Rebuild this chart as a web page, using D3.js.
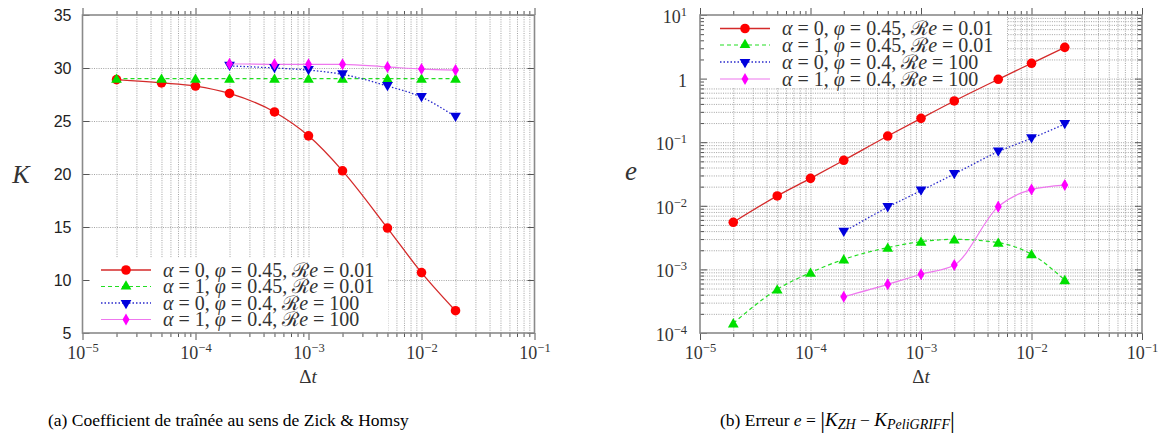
<!DOCTYPE html>
<html><head><meta charset="utf-8">
<script src="https://cdn.jsdelivr.net/npm/d3@7"></script>
<style>
body{margin:0;background:#fff;}
svg{display:block;}
</style></head>
<body>
<svg id="c" width="1168" height="440"></svg>
<script>
// ---- data ----
const dtA = [2e-5,5e-5,1e-4,2e-4,5e-4,1e-3,2e-3,5e-3,1e-2,2e-2];
const dtB = [2e-4,5e-4,1e-3,2e-3,5e-3,1e-2,2e-2];
const K_s1 = [28.9,28.6,28.3,27.6,25.85,23.6,20.3,14.9,10.7,7.1];
const K_s2 = [29.0,29.0,29.0,29.0,29.0,29.0,29.0,29.0,29.0,29.0];
const K_s3 = [30.2,30.0,29.8,29.4,28.3,27.25,25.4];
const K_s4 = [30.4,30.35,30.35,30.35,30.1,29.9,29.8];
const E_s1 = [0.0055,0.0143,0.027,0.052,0.125,0.237,0.445,0.975,1.74,3.1];
const E_s2 = [0.000142,0.000486,0.00089,0.00144,0.0022,0.00273,0.00297,0.00263,0.00173,0.00068];
const E_s3 = [0.0039,0.0095,0.0173,0.0316,0.071,0.115,0.193];
const E_s4 = [0.000372,0.000583,0.00084,0.00117,0.0097,0.018,0.0212];
const xMajor = [1e-5,1e-4,1e-3,1e-2,1e-1];
const xLabels = ["−5","−4","−3","−2","−1"];
const kTicks = [5,10,15,20,25,30,35];
const eMajor = [1e-4,1e-3,1e-2,1e-1,1,10];
const eLabels = [["10","−4"],["10","−3"],["10","−2"],["10","−1"],["1",""],["10","1"]];
const legendParts = [
  [["α",1]," = 0, ",["φ",1]," = 0.45, ",["ℛ",0],["e",1]," = 0.01"],
  [["α",1]," = 1, ",["φ",1]," = 0.45, ",["ℛ",0],["e",1]," = 0.01"],
  [["α",1]," = 0, ",["φ",1]," = 0.4, ",["ℛ",0],["e",1]," = 100"],
  [["α",1]," = 1, ",["φ",1]," = 0.4, ",["ℛ",0],["e",1]," = 100"]
];
const styles = [
  {line:"#d42a2a", fill:"#ff0000", dash:null, w:1.3, sym:d3.symbolCircle, size:72, rot:0},
  {line:"#22dd22", fill:"#00e000", dash:"4,3", w:1.2, sym:d3.symbolTriangle, size:50, rot:0},
  {line:"#2a2acc", fill:"#0000dd", dash:"1.5,2", w:1.3, sym:d3.symbolTriangle, size:50, rot:180},
  {line:"#ee77ee", fill:"#ff00ff", dash:null, w:1.2, sym:d3.symbolDiamond, size:42, rot:0}
];

const svg = d3.select("#c");
const serif = "Liberation Serif";
const sans = "Liberation Sans";

function minorTicks(lo, hi){
  const out=[];
  for(let e=lo;e<hi;e++) for(let m=1;m<=9;m++) out.push(m*Math.pow(10,e));
  out.push(Math.pow(10,hi));
  return out;
}

function drawPanel(o){
  const {x,y,yLog,seriesX,seriesY,legendBox,legendY,legendX0} = o;
  const g = svg.append("g");
  const [x0,x1]=x.range(), [y0,y1]=y.range();
  const W=x1-x0, H=y0-y1;
  const xm = minorTicks(-5,-1);
  const gridStyle=a=>{a.select(".domain").remove();a.selectAll("line").attr("stroke","#8c8c8c").attr("stroke-width",0.8).attr("stroke-dasharray","1,1.3");};
  g.append("g").attr("transform",`translate(0,${y0})`)
    .call(d3.axisBottom(x).tickValues(xm.filter(v=>v>1e-5&&v<1e-1)).tickSize(-H).tickFormat(""))
    .call(gridStyle);
  const yg = yLog ? minorTicks(-4,1).filter(v=>v>1e-4&&v<10) : kTicks.filter(v=>v>5&&v<35);
  g.append("g").attr("transform",`translate(${x0},0)`)
    .call(d3.axisLeft(y).tickValues(yg).tickSize(-W).tickFormat(""))
    .call(gridStyle);
  g.append("rect").attr("x",legendBox[0]).attr("y",legendBox[1]).attr("width",legendBox[2]).attr("height",legendBox[3]).attr("fill","#fff");
  const tickStyle=a=>{a.select(".domain").remove();a.selectAll("line").attr("stroke","#555").attr("stroke-width",1);};
  const isMajor=v=>Math.abs(Math.log10(v)-Math.round(Math.log10(v)))<1e-9;
  [[y0,-1],[y1,1]].forEach(([py,s])=>{
    g.append("g").attr("transform",`translate(0,${py})`)
      .call(d3.axisBottom(x).tickValues(xm.filter(isMajor)).tickSize(-7*s).tickFormat("")).call(tickStyle);
    g.append("g").attr("transform",`translate(0,${py})`)
      .call(d3.axisBottom(x).tickValues(xm.filter(v=>!isMajor(v))).tickSize(-4*s).tickFormat("")).call(tickStyle);
  });
  const yt = yLog ? minorTicks(-4,1) : kTicks;
  [[x0,1],[x1,-1]].forEach(([px,s])=>{
    if(yLog){
      g.append("g").attr("transform",`translate(${px},0)`)
        .call(d3.axisLeft(y).tickValues(yt.filter(isMajor)).tickSize(-7*s).tickFormat("")).call(tickStyle);
      g.append("g").attr("transform",`translate(${px},0)`)
        .call(d3.axisLeft(y).tickValues(yt.filter(v=>!isMajor(v))).tickSize(-4*s).tickFormat("")).call(tickStyle);
    } else {
      g.append("g").attr("transform",`translate(${px},0)`)
        .call(d3.axisLeft(y).tickValues(yt).tickSize(-7*s).tickFormat("")).call(tickStyle);
    }
  });
  g.append("rect").attr("x",x0).attr("y",y1).attr("width",W).attr("height",H)
    .attr("fill","none").attr("stroke","#8a8a8a").attr("stroke-width",1.6);
  g.append("g").attr("transform",`translate(0,${y0})`)
    .call(d3.axisBottom(x).tickValues(xMajor).tickSize(0).tickPadding(0).tickFormat(""))
    .call(a=>{a.select(".domain").remove();
      a.selectAll(".tick text").each(function(d,i){
        const t=d3.select(this).attr("y",26).attr("dy",null).attr("fill","#333")
          .attr("font-family",serif).attr("font-size",18).attr("text-anchor","middle");
        t.append("tspan").text("10");
        t.append("tspan").attr("font-size",12.5).attr("dy",-7).text(xLabels[i]);
      });});
  if(yLog){
    g.append("g").attr("transform",`translate(${x0},0)`)
      .call(d3.axisLeft(y).tickValues(eMajor).tickSize(0).tickPadding(13).tickFormat(""))
      .call(a=>{a.select(".domain").remove();
        a.selectAll(".tick text").each(function(d,i){
          const t=d3.select(this).attr("dy","0.42em").attr("fill","#333")
            .attr("font-family",serif).attr("font-size",18).attr("text-anchor","end");
          t.append("tspan").text(eLabels[i][0]);
          if(eLabels[i][1]) t.append("tspan").attr("font-size",12.5).attr("dy",-7).text(eLabels[i][1]);
        });});
  } else {
    g.append("g").attr("transform",`translate(${x0},0)`)
      .call(d3.axisLeft(y).tickValues(kTicks).tickSize(0).tickPadding(11).tickFormat(d3.format("d")))
      .call(a=>{a.select(".domain").remove();
        a.selectAll(".tick text").attr("dy","0.36em").attr("fill","#222").attr("font-family",sans).attr("font-size",16);});
  }
  const line=d3.line().curve(d3.curveMonotoneX);
  styles.forEach((s,i)=>{
    const pts=seriesX[i].map((v,j)=>[x(v),y(seriesY[i][j])]);
    g.append("path").attr("d",line(pts)).attr("fill","none").attr("stroke",s.line)
      .attr("stroke-width",s.w).attr("stroke-dasharray",s.dash);
  });
  styles.forEach((s,i)=>{
    const pts=seriesX[i].map((v,j)=>[x(v),y(seriesY[i][j])]);
    g.append("g").selectAll("path").data(pts).join("path")
      .attr("d",d3.symbol().type(s.sym).size(s.size))
      .attr("transform",d=>`translate(${d[0]},${d[1]+(s.sym===d3.symbolTriangle?(s.rot?-1:1):0)}) rotate(${s.rot})`)
      .attr("fill",s.fill);
  });
  styles.forEach((s,i)=>{
    const ly=legendY[i];
    g.append("line").attr("x1",legendX0).attr("x2",legendX0+50).attr("y1",ly).attr("y2",ly)
      .attr("stroke",s.line).attr("stroke-width",s.w).attr("stroke-dasharray",s.dash);
    g.append("path").attr("d",d3.symbol().type(s.sym).size(s.size))
      .attr("transform",`translate(${legendX0+25},${ly}) rotate(${s.rot})`).attr("fill",s.fill);
    const t=g.append("text").attr("x",legendX0+62).attr("y",ly+6.5).attr("font-family",serif)
      .attr("font-size",20).attr("fill","#333");
    legendParts[i].forEach(p=>{
      if(typeof p==="string") t.append("tspan").text(p);
      else t.append("tspan").attr("font-style",p[1]?"italic":"normal").text(p[0]);
    });
  });
}

const xL=d3.scaleLog().domain([1e-5,1e-1]).range([82.5,534.5]);
const yL=d3.scaleLinear().domain([5,35]).range([333,15]);
drawPanel({x:xL,y:yL,yLog:false,seriesX:[dtA,dtA,dtB,dtB],seriesY:[K_s1,K_s2,K_s3,K_s4],
  legendBox:[84,258,304,74],legendY:[270,286.5,303,319.5],legendX0:101});

const xR=d3.scaleLog().domain([1e-5,1e-1]).range([700,1142]);
const yR=d3.scaleLog().domain([1e-4,10]).range([333,15]);
drawPanel({x:xR,y:yR,yLog:true,seriesX:[dtA,dtA,dtB,dtB],seriesY:[E_s1,E_s2,E_s3,E_s4],
  legendBox:[701,16,306,72],legendY:[28.5,45,62,79],legendX0:720});

svg.append("text").attr("x",308).attr("y",383).attr("text-anchor","middle").attr("font-family",serif).attr("font-size",19).attr("fill","#333")
  .call(t=>{t.append("tspan").text("Δ");t.append("tspan").attr("font-style","italic").text("t");});
svg.append("text").attr("x",921).attr("y",383).attr("text-anchor","middle").attr("font-family",serif).attr("font-size",19).attr("fill","#333")
  .call(t=>{t.append("tspan").text("Δ");t.append("tspan").attr("font-style","italic").text("t");});
svg.append("text").attr("x",21).attr("y",183).attr("text-anchor","middle").attr("font-family",serif).attr("font-size",26).attr("font-style","italic").attr("fill","#333").text("K");
svg.append("text").attr("x",631).attr("y",180).attr("text-anchor","middle").attr("font-family",serif).attr("font-size",27).attr("font-style","italic").attr("fill","#333").text("e");

svg.append("text").attr("x",48).attr("y",426).attr("font-family",serif).attr("font-size",17.5).attr("fill","#000")
  .text("(a) Coefficient de traînée au sens de Zick & Homsy");
svg.append("text").attr("x",720).attr("y",426).attr("font-family",serif).attr("font-size",17.5).attr("fill","#000")
  .call(t=>{
    t.append("tspan").text("(b) Erreur ");
    t.append("tspan").attr("font-style","italic").text("e");
    t.append("tspan").text(" = ");
    t.append("tspan").attr("font-size",24).attr("dy",2).text("|");
    t.append("tspan").attr("font-style","italic").attr("font-size",19).attr("dy",-2).text("K");
    t.append("tspan").attr("font-style","italic").attr("font-size",14).attr("dy",3).text("ZH");
    t.append("tspan").attr("dy",-3).text(" − ");
    t.append("tspan").attr("font-style","italic").attr("font-size",19).text("K");
    t.append("tspan").attr("font-style","italic").attr("font-size",14).attr("dy",3).text("PeliGRIFF");
    t.append("tspan").attr("font-size",24).attr("dy",-1).text("|");
  });
</script>
</body></html>
